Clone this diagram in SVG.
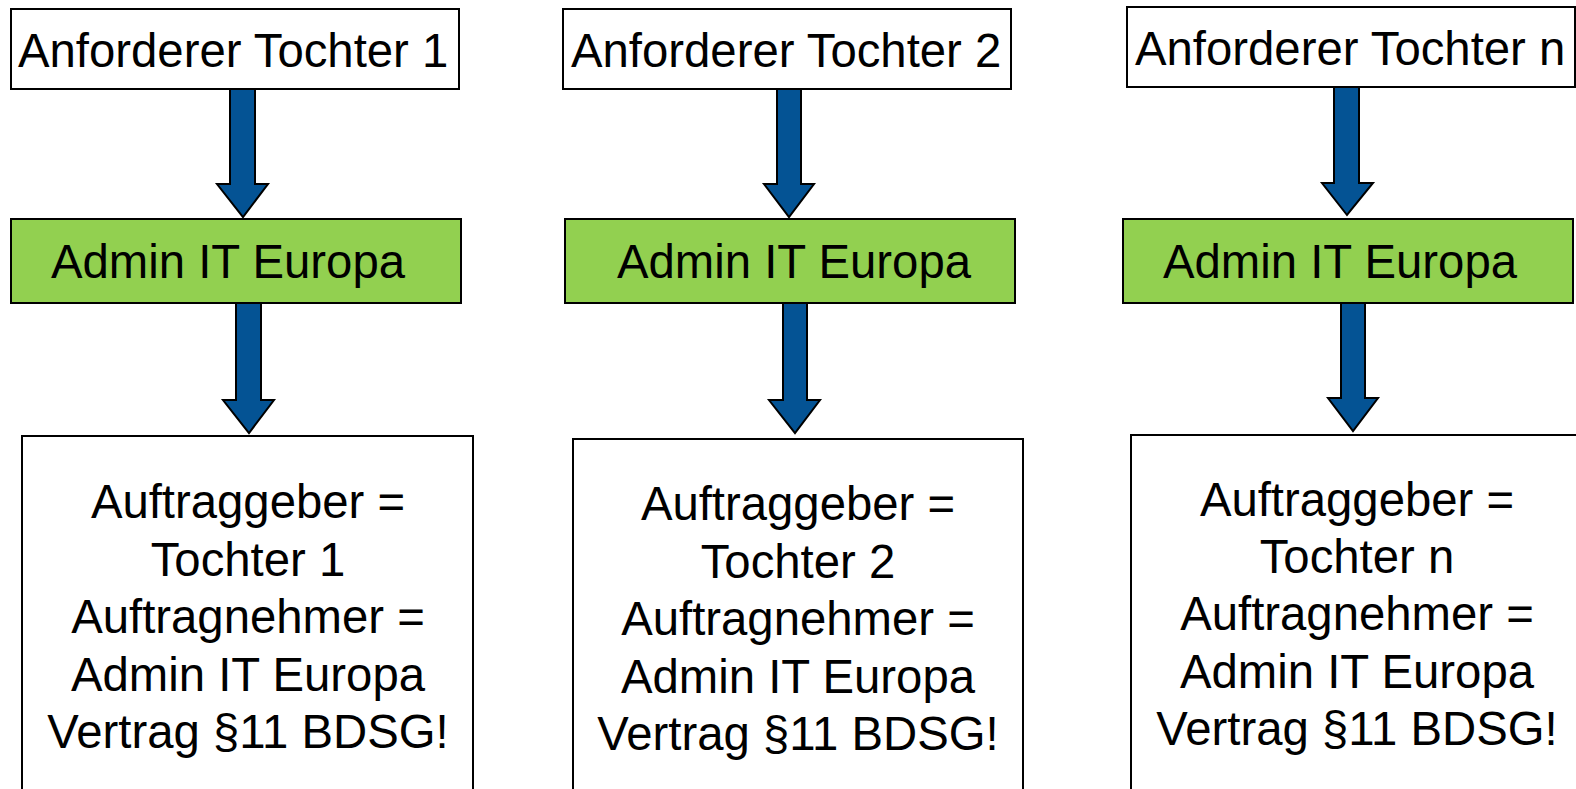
<svg xmlns="http://www.w3.org/2000/svg" width="1576" height="789" viewBox="0 0 1576 789">
<style>
.box{fill:#ffffff;stroke:#000000;stroke-width:2}
.green{fill:#92D050;stroke:#000000;stroke-width:2}
.t{font-family:"Liberation Sans",Arial,sans-serif;font-size:47.3px;fill:#000000}
.c{text-anchor:middle}
.arrow{fill:#045394;stroke:#000000;stroke-width:2;stroke-linejoin:miter}
</style>
<rect width="1576" height="789" fill="#ffffff"/>
<g id="req1"><rect class="box" x="11" y="9" width="448" height="80"/><text class="t" x="18" y="67">Anforderer Tochter 1</text></g>
<g id="req2"><rect class="box" x="563" y="9" width="448" height="80"/><text class="t" x="571" y="67">Anforderer Tochter 2</text></g>
<g id="reqn"><rect class="box" x="1127" y="7" width="448" height="80"/><text class="t" x="1135" y="65">Anforderer Tochter n</text></g>
<g id="admin1"><rect class="green" x="11" y="219" width="450" height="84"/><text class="t" x="51" y="278">Admin IT Europa</text></g>
<g id="admin2"><rect class="green" x="565" y="219" width="450" height="84"/><text class="t" x="617" y="278">Admin IT Europa</text></g>
<g id="adminn"><rect class="green" x="1123" y="219" width="450" height="84"/><text class="t" x="1163" y="278">Admin IT Europa</text></g>
<g id="contract1"><rect class="box" x="22" y="436" width="451" height="420"/>
<text class="t c" x="248"><tspan x="248" y="518">Auftraggeber =</tspan><tspan x="248" y="576">Tochter 1</tspan><tspan x="248" y="633">Auftragnehmer =</tspan><tspan x="248" y="691">Admin IT Europa</tspan><tspan x="248" y="748">Vertrag §11 BDSG!</tspan></text></g>
<g id="contract2"><rect class="box" x="573" y="439" width="450" height="420"/>
<text class="t c" x="798"><tspan x="798" y="520">Auftraggeber =</tspan><tspan x="798" y="578">Tochter 2</tspan><tspan x="798" y="635">Auftragnehmer =</tspan><tspan x="798" y="693">Admin IT Europa</tspan><tspan x="798" y="750">Vertrag §11 BDSG!</tspan></text></g>
<g id="contractn"><rect class="box" x="1131" y="435" width="500" height="420"/>
<text class="t c" x="1357"><tspan x="1357" y="516">Auftraggeber =</tspan><tspan x="1357" y="573">Tochter n</tspan><tspan x="1357" y="630">Auftragnehmer =</tspan><tspan x="1357" y="688">Admin IT Europa</tspan><tspan x="1357" y="745">Vertrag §11 BDSG!</tspan></text></g>
<g id="connectors">
<polygon class="arrow" points="230,89 255,89 255,184 268,184 243,217 217,184 230,184"/>
<polygon class="arrow" points="236,303 261,303 261,400 274,400 249,433 223,400 236,400"/>
<polygon class="arrow" points="777,89 801,89 801,184 814,184 789,217 764,184 777,184"/>
<polygon class="arrow" points="783,303 807,303 807,400 820,400 795,433 769,400 783,400"/>
<polygon class="arrow" points="1334,87 1359,87 1359,183 1373,183 1347,215 1322,183 1334,183"/>
<polygon class="arrow" points="1341,303 1365,303 1365,398 1378,398 1353,431 1328,398 1341,398"/>
</g>
</svg>
